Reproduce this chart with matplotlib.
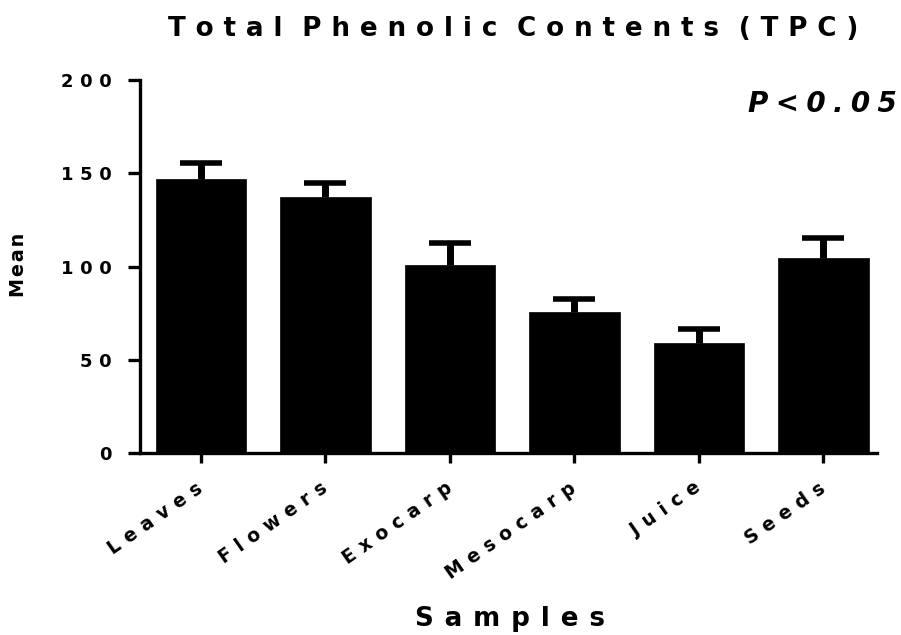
import numpy as np
import matplotlib
matplotlib.use("Agg")
import matplotlib.pyplot as plt
import matplotlib.transforms as mtransforms

plt.rcParams['font.family'] = ['DejaVu Sans']
plt.rcParams['font.weight'] = 'bold'

# data
samples = ['Leaves', 'Flowers', 'Exocarp', 'Mesocarp', 'Juice', 'Seeds']
means = [146.8, 137.0, 100.7, 75.4, 58.8, 104.3]
upper = [155.5, 144.6, 112.5, 82.8, 66.4, 115.3]
err = [u - m for u, m in zip(upper, means)]
yticks = [0, 50, 100, 150, 200]

# unicode spaces and their widths (em) in DejaVu Sans Bold
SPACES = {' ': 0.348, '\u2002': 0.5, '\u2003': 1.0, '\u2004': 0.333,
          '\u2005': 0.25, '\u2006': 0.167, '\u2008': 0.38, '\u2009': 0.2,
          '\u200a': 0.1}


def gap(em):
    best, err_ = '', em
    for a, wa in SPACES.items():
        if abs(em - wa) < err_:
            best, err_ = a, abs(em - wa)
        for b, wb in SPACES.items():
            if abs(em - wa - wb) < err_:
                best, err_ = a + b, abs(em - wa - wb)
    return best


def spaced(s, em):
    # fake letter spacing, word breaks get a double gap
    g = gap(em)
    return (g + g).join(g.join(w) for w in s.split(' '))


fig = plt.figure(figsize=(9.01, 6.35), dpi=100)
ax = fig.add_axes([140 / 901, 1 - 453 / 635, 737 / 901, 373 / 635])

x = np.arange(len(samples))
ax.bar(x, means, width=0.73, color='black', edgecolor='black', linewidth=0.5, zorder=2)
eb = ax.errorbar(x, means, yerr=[np.zeros(len(err)), err], fmt='none', ecolor='black',
                 elinewidth=5, capsize=15, capthick=4, zorder=1)
# only the upper cap is wanted
for cap in eb[1]:
    if np.allclose(cap.get_ydata(), means):
        cap.set_visible(False)

ax.set_xlim(-0.49, 5.43)
ax.set_ylim(0, 200)
ax.set_yticks(yticks)
ax.set_yticklabels([spaced(str(t), 0.37) for t in yticks], fontsize=13)
ax.set_xticks(x)
ax.set_xticklabels([spaced(s, 0.4) for s in samples], fontsize=13.5,
                   rotation=35, ha='right', va='center', rotation_mode='anchor')
shift = mtransforms.ScaledTranslation(-10 / 100, 0, fig.dpi_scale_trans)
for lab in ax.get_xticklabels():
    lab.set_transform(lab.get_transform() + shift)

for side in ['top', 'right']:
    ax.spines[side].set_visible(False)
for side in ['left', 'bottom']:
    ax.spines[side].set_linewidth(2.4)
ax.tick_params(axis='y', width=2.4, length=8.5, pad=12)
ax.tick_params(axis='x', width=2.4, length=7, pad=17)

fig.text(513 / 901, 1 - 36 / 635, spaced('Total Phenolic Contents (TPC)', 0.39),
         fontsize=18.8, fontweight='bold', ha='center', va='baseline')
fig.text(897 / 901, 1 - 112 / 635, spaced('P<0.05', 0.26), fontsize=20,
         fontweight='bold', style='italic', ha='right', va='baseline')
fig.text(19 / 901, 1 - 265 / 635, spaced('Mean', 0.1), fontsize=13.8,
         fontweight='bold', rotation=90, ha='center', va='center')
fig.text(510 / 901, 1 - 626 / 635, spaced('Samples', 0.42), fontsize=18.8,
         fontweight='bold', ha='center', va='baseline')

fig.savefig('out.png', dpi=100)
